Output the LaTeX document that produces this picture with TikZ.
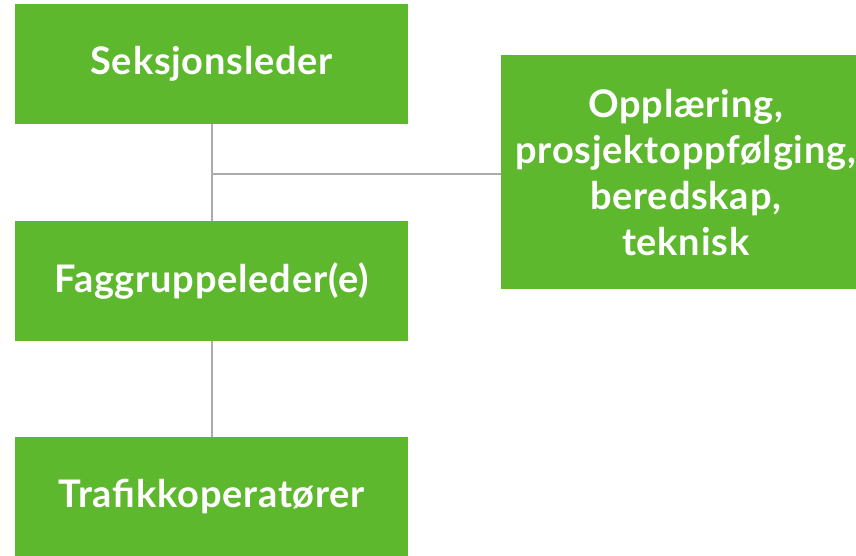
\documentclass[tikz,border=0pt]{standalone}
\usepackage{fontspec}
\setmainfont{Lato}[LetterSpace=2]
\definecolor{boxgreen}{HTML}{5DB82E}
\definecolor{linegray}{HTML}{ABABAB}
\tikzset{
  box/.style={fill=boxgreen, draw=none, inner sep=0pt, anchor=north west,
    text=white, font=\fontsize{38}{46}\selectfont\bfseries, align=center},
  conn/.style={draw=linegray, line width=2pt}
}
\begin{document}
\begin{tikzpicture}[x=1pt,y=-1pt]
\useasboundingbox (0,0) rectangle (856,556);
\fill[white] (0,0) rectangle (856,556);
\begin{scope}
\clip (0,0) rectangle (856,556);
\node[box, minimum width=393pt, minimum height=120pt] (s) at (15,4) {Seksjonsleder};
\node[box, minimum width=393pt, minimum height=120pt] (f) at (15,221) {Faggruppeleder(e)};
\node[box, minimum width=393pt, minimum height=119pt] (t) at (15,437) {Trafikkoperatører};
\node[box, minimum width=369pt, minimum height=234pt] (r) at (501,55) {Opplæring,\\prosjektoppfølging,\\beredskap,\\teknisk};
\end{scope}
\coordinate (j) at (211.5,174);
\draw[conn] (s.south) -- (f.north);
\draw[conn] (j) -- (j -| r.west);
\draw[conn] (f.south) -- (t.north);
\end{tikzpicture}
\end{document}
